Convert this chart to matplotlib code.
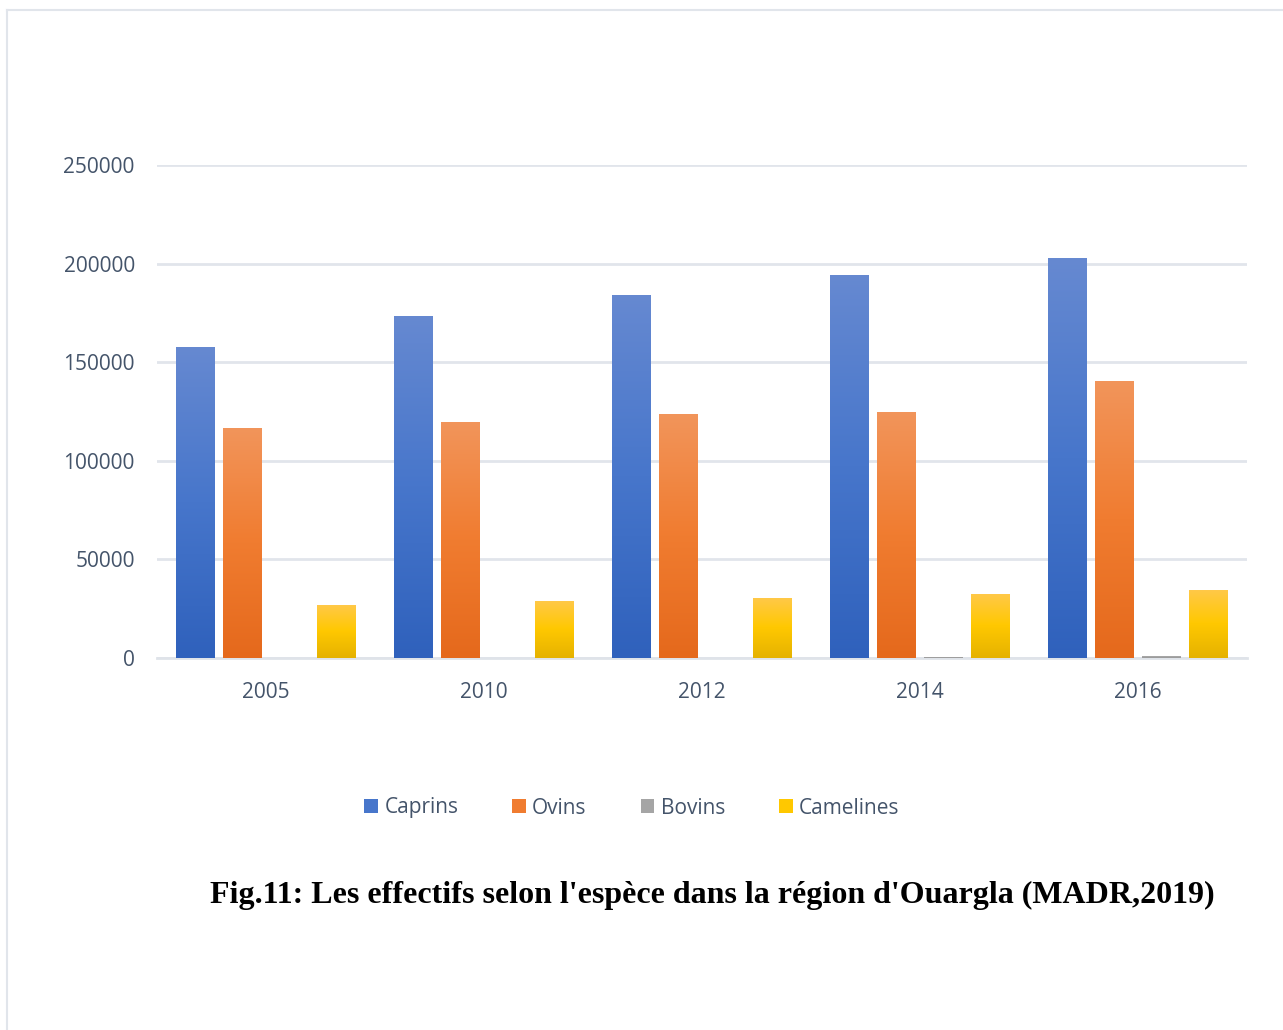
import numpy as np
import matplotlib.pyplot as plt
from matplotlib.colors import LinearSegmentedColormap
from matplotlib.patches import Patch
from matplotlib.lines import Line2D

annees = ['2005', '2010', '2012', '2014', '2016']
especes = ['Caprins', 'Ovins', 'Bovins', 'Camelines']
caprins = [157800, 173500, 184200, 194300, 202800]
ovins = [116700, 119800, 123800, 124800, 140500]
bovins = [0, 0, 0, 700, 1200]
camelines = [27000, 29000, 30500, 32500, 34500]

# gradients (haut -> bas), comme dans Excel
degrades = {
    'Caprins': ['#6689d1', '#4776cb', '#2f61bc'],
    'Ovins': ['#f2955b', '#f07c30', '#e5691c'],
    'Bovins': ['#b5b5b5', '#a5a5a5', '#989898'],
    'Camelines': ['#ffc94a', '#ffc800', '#e5b200'],
}
couleur_texte = '#44546a'

fig = plt.figure(figsize=(12.83, 10.30), dpi=100)
ax = fig.add_axes([157 / 1283, 1 - 658 / 1030, 1090 / 1283, 493 / 1030])

x = np.arange(len(annees))
largeur = 0.176
pas = 0.216
series = [caprins, ovins, bovins, camelines]
grad = np.linspace(0, 1, 256).reshape(-1, 1)

for i, (nom, vals) in enumerate(zip(especes, series)):
    cmap = LinearSegmentedColormap.from_list(nom, degrades[nom][::-1])
    pos = x + (i - 1.5) * pas
    bars = ax.bar(pos, vals, width=largeur, color=degrades[nom][1], zorder=3)
    for b in bars:
        h = b.get_height()
        if h <= 0:
            continue
        x0, w = b.get_x(), b.get_width()
        im = ax.imshow(grad, cmap=cmap, aspect='auto', origin='lower',
                       extent=[x0, x0 + w, 0, h], zorder=4)
        im.set_clip_path(b)

ax.set_xlim(-0.5, len(annees) - 0.5)
ax.set_ylim(0, 250000)
ax.set_yticks(range(0, 250001, 50000))
ax.set_yticklabels([str(v) for v in range(0, 250001, 50000)])
ax.set_xticks(x)
ax.set_xticklabels(annees)
ax.grid(axis='y', color='#e1e5eb', linewidth=2, zorder=0)
ax.set_axisbelow(True)
for s in ['top', 'right', 'left']:
    ax.spines[s].set_visible(False)
ax.spines['bottom'].set_color('#dfe3e9')
ax.spines['bottom'].set_linewidth(2)
ax.tick_params(length=0, labelsize=15, labelcolor=couleur_texte)
ax.tick_params(axis='x', pad=17)
ax.tick_params(axis='y', pad=16)
for lab in ax.get_xticklabels() + ax.get_yticklabels():
    lab.set_fontfamily('Open Sans')

handles = [Patch(facecolor=degrades[n][1], edgecolor='none') for n in especes]
leg = fig.legend(handles, especes, loc='center', bbox_to_anchor=(632 / 1283, 1 - 808 / 1030),
                 ncol=4, frameon=False, handlelength=0.65, handleheight=0.65,
                 handletextpad=0.3, columnspacing=2.6,
                 prop={'family': 'Open Sans', 'size': 15})
for t in leg.get_texts():
    t.set_color(couleur_texte)

fig.text(712 / 1283, 1 - 895 / 1030,
         "Fig.11: Les effectifs selon l'espèce dans la région d'Ouargla (MADR,2019)",
         ha='center', va='center', fontsize=23, fontweight='bold',
         family='Liberation Serif', color='black')

# cadre du graphique (haut et gauche)
fig.add_artist(Line2D([7 / 1283, 7 / 1283], [0, 1 - 10 / 1030], color='#e1e5eb', linewidth=1.5))
fig.add_artist(Line2D([7 / 1283, 1], [1 - 10 / 1030, 1 - 10 / 1030], color='#e1e5eb', linewidth=1.5))

fig.savefig('out.png', dpi=100)
